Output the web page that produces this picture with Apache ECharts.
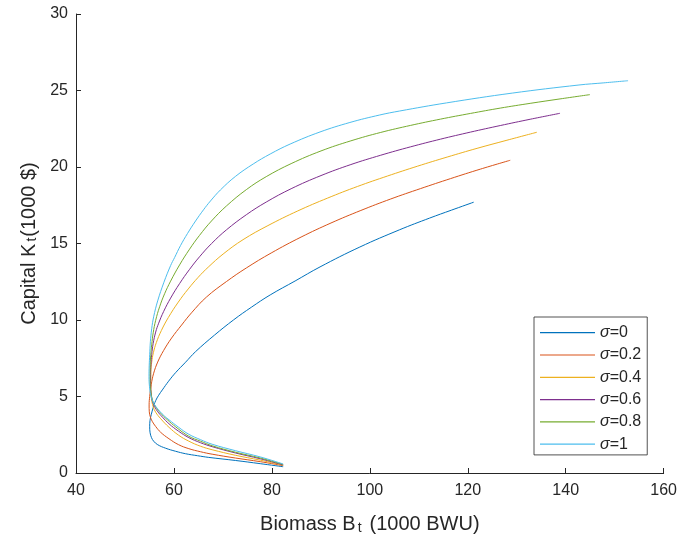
<!DOCTYPE html>
<html>
<head>
<meta charset="utf-8">
<script src="https://cdn.jsdelivr.net/npm/echarts@6/dist/echarts.min.js"></script>
<style>html,body{margin:0;padding:0;background:#fff}#c{width:680px;height:541px}</style>
</head>
<body>
<div id="c"></div>
<script>
// Series names
const seriesNames = ['σ=0', 'σ=0.2', 'σ=0.4', 'σ=0.6', 'σ=0.8', 'σ=1'];
// Tick labels
const xTicks = [40, 60, 80, 100, 120, 140, 160];
const yTicks = [0, 5, 10, 15, 20, 25, 30];

// Each curve: [Biomass B_t, Capital K_t] pairs
const sigma0 = [
  [121.21,17.70],[116.67,17.18],[112.20,16.66],[106.10,15.90],[97.96,14.77],[89.83,13.47],
  [84.74,12.55],[79.66,11.64],[75.79,10.83],[72.19,10.01],[68.27,9.01],[64.41,7.93],
  [62.37,7.24],[60.34,6.56],[58.91,6.00],[57.63,5.43],[56.88,5.08],[56.27,4.73],
  [55.76,4.27],[55.36,3.81],[55.11,3.42],[55.05,3.02],[55.13,2.63],[55.42,2.31],
  [55.86,2.08],[56.68,1.85],[58.30,1.62],[60.34,1.42],[62.37,1.26],[64.81,1.13],
  [67.11,1.02],[72.54,0.82],[77.63,0.61],[82.30,0.41]
];
const sigma02 = [
  [128.67,20.44],[122.57,19.86],[116.47,19.24],[110.37,18.59],[104.27,17.91],[98.17,17.16],
  [92.07,16.34],[85.96,15.42],[79.86,14.38],[74.78,13.40],[70.71,12.51],[66.64,11.50],
  [63.59,10.47],[61.56,9.67],[59.52,8.82],[57.90,8.01],[56.68,7.25],[55.86,6.52],
  [55.36,5.78],[55.05,5.00],[54.93,4.45],[54.97,4.00],[55.17,3.68],[55.56,3.38],
  [56.27,3.04],[57.29,2.66],[58.98,2.24],[60.95,1.85],[63.04,1.59],[65.42,1.39],
  [67.80,1.23],[72.54,0.98],[77.63,0.74],[82.30,0.48]
];
const sigma04 = [
  [134.10,22.27],[128.00,21.75],[121.90,21.22],[115.80,20.65],[109.70,20.05],[103.60,19.41],
  [97.50,18.73],[91.39,17.97],[85.29,17.13],[79.19,16.17],[74.11,15.25],[70.04,14.31],
  [66.99,13.45],[64.95,12.79],[62.92,12.03],[60.89,11.17],[58.85,10.16],[57.43,9.31],
  [56.41,8.53],[55.80,7.86],[55.46,7.25],[55.29,6.62],[55.27,6.03],[55.29,5.44],
  [55.42,4.85],[55.76,4.33],[56.27,3.97],[57.29,3.55],[58.98,2.99],[60.95,2.47],
  [63.04,2.08],[65.42,1.75],[67.80,1.52],[72.54,1.16],[77.63,0.84],[82.30,0.51]
];
const sigma06 = [
  [138.84,23.51],[132.74,23.12],[126.64,22.71],[120.54,22.28],[114.44,21.82],[108.34,21.32],
  [102.23,20.77],[96.13,20.16],[90.03,19.44],[83.93,18.58],[78.85,17.71],[74.78,16.88],
  [70.71,15.89],[67.66,14.99],[65.22,14.13],[63.19,13.31],[61.15,12.38],[59.32,11.43],
  [57.90,10.56],[56.88,9.79],[56.27,9.21],[55.76,8.47],[55.46,7.74],[55.29,7.06],
  [55.23,6.42],[55.25,5.64],[55.46,4.92],[55.86,4.46],[56.62,4.04],[57.69,3.64],
  [58.98,3.22],[60.95,2.73],[63.04,2.31],[65.42,1.98],[67.80,1.72],[72.54,1.31],
  [77.63,0.93],[82.30,0.53]
];
const sigma08 = [
  [144.94,24.73],[138.84,24.45],[132.74,24.16],[126.64,23.85],[120.54,23.50],[114.44,23.13],
  [108.34,22.72],[102.23,22.26],[96.13,21.71],[90.03,21.05],[83.93,20.22],[78.85,19.37],
  [74.78,18.52],[70.71,17.45],[67.66,16.47],[65.22,15.53],[63.19,14.63],[61.15,13.60],
  [59.32,12.54],[58.10,11.72],[57.08,10.87],[56.27,9.98],[55.76,9.16],[55.46,8.38],
  [55.25,7.66],[55.13,6.88],[55.11,6.09],[55.25,5.38],[55.66,4.72],[56.27,4.33],
  [57.19,3.94],[58.65,3.48],[60.34,3.02],[63.04,2.40],[65.42,2.08],[67.80,1.78],
  [72.54,1.36],[77.63,0.98],[82.30,0.56]
];
const sigma1 = [
  [152.73,25.64],[147.79,25.50],[142.71,25.36],[129.08,24.83],[115.66,24.19],[106.10,23.66],
  [102.03,23.40],[95.93,22.91],[89.83,22.29],[83.73,21.50],[79.66,20.85],[76.20,20.20],
  [72.54,19.38],[69.49,18.50],[67.46,17.78],[66.03,17.20],[64.41,16.47],[62.78,15.66],
  [61.35,14.87],[60.13,14.08],[59.32,13.56],[57.96,12.47],[56.68,11.25],[55.86,10.21],
  [55.46,9.43],[55.19,8.58],[55.05,7.73],[54.95,7.01],[54.91,6.29],[55.01,5.64],
  [55.25,5.11],[55.66,4.69],[56.27,4.36],[57.08,4.04],[58.10,3.71],[58.98,3.48],
  [60.95,2.99],[63.04,2.53],[65.42,2.18],[67.80,1.88],[72.54,1.46],[77.63,1.05],[82.30,0.59]
];
const curves = [sigma0, sigma02, sigma04, sigma06, sigma08, sigma1];
const colors = ['#0072BD', '#D95319', '#EDB120', '#7E2F8E', '#77AC30', '#4DBEEE'];

const axisColor = '#262626';
const font = 'Liberation Sans, Arial, Helvetica, sans-serif';

function nameRich(rightPad) {
  return {
    a: {fontSize: 20, fontFamily: font, color: axisColor, lineHeight: 20, verticalAlign: 'top'},
    s: {fontSize: 14, fontFamily: font, color: axisColor, lineHeight: 14, verticalAlign: 'bottom', padding: [17, rightPad, 0, 2]}
  };
}

const chart = echarts.init(document.getElementById('c'), null, {renderer: 'canvas'});
chart.setOption({
  animation: false,
  backgroundColor: '#fff',
  color: colors,
  grid: {left: 75, right: 15, top: 14, bottom: 68},
  xAxis: {
    type: 'value', min: xTicks[0], max: xTicks[xTicks.length - 1], interval: 20,
    axisLine: {lineStyle: {color: axisColor, width: 1}},
    axisTick: {inside: true, length: 5, lineStyle: {color: axisColor}},
    axisLabel: {color: axisColor, fontSize: 16, fontFamily: font, margin: 10},
    splitLine: {show: false},
    name: '{a|Biomass B}{s|t}{a|(1000 BWU)}',
    nameLocation: 'middle', nameGap: 22,
    nameTextStyle: {color: axisColor, fontFamily: font, rich: nameRich(8)}
  },
  yAxis: {
    type: 'value', min: yTicks[0], max: yTicks[yTicks.length - 1], interval: 5,
    axisLine: {show: true, lineStyle: {color: axisColor, width: 1}},
    axisTick: {show: true, inside: true, length: 5, lineStyle: {color: axisColor}},
    axisLabel: {color: axisColor, fontSize: 16, fontFamily: font, margin: 8},
    splitLine: {show: false},
    name: '{a|Capital K}{s|t}{a|(1000 $)}',
    nameLocation: 'middle', nameGap: 37, nameRotate: 90,
    nameTextStyle: {color: axisColor, fontFamily: font, rich: nameRich(1)}
  },
  legend: {
    orient: 'vertical', left: 534, top: 317,
    backgroundColor: '#fff',
    borderColor: axisColor, borderWidth: 0.8,
    padding: [7.7, 6, 2.7, 6],
    icon: 'path://M0,0H55V1.2H0Z',
    itemWidth: 55, itemHeight: 14, itemGap: 6.3,
    data: seriesNames,
    formatter: function (name) { return '{i|σ}{n|' + name.slice(1) + '}'; },
    textStyle: {
      color: axisColor, fontFamily: font, fontSize: 16,
      rich: {
        i: {fontStyle: 'italic', fontSize: 16, fontFamily: font, color: axisColor, lineHeight: 18},
        n: {fontSize: 16, fontFamily: font, color: axisColor, lineHeight: 18}
      }
    }
  },
  series: curves.map(function (d, i) {
    return {
      name: seriesNames[i], type: 'line', data: d,
      showSymbol: false, symbol: 'none', smooth: 0.4,
      lineStyle: {width: 1, color: colors[i]},
      itemStyle: {color: colors[i]}
    };
  })
});
</script>
</body>
</html>
